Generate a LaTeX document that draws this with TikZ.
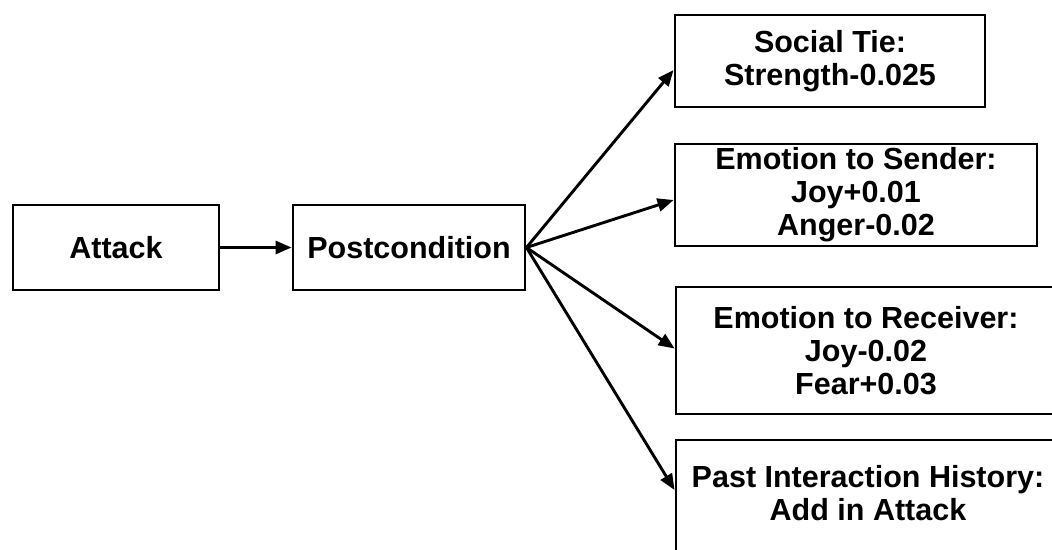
\documentclass[tikz,border=0pt]{standalone}
\usepackage{fontspec}
\setmainfont{Liberation Sans}
\usetikzlibrary{arrows.meta}

\begin{document}
\begin{tikzpicture}[x=1pt,y=-1pt,
  box/.style={draw=black, line width=2.9pt, fill=white, inner sep=0pt,
    align=center, font=\bfseries\fontsize{30.5}{33}\selectfont},
  lbl/.style={inner sep=0pt, align=center, font=\bfseries\fontsize{30.5}{33}\selectfont},
  link/.style={line width=2.9pt, -{Triangle[length=16pt,width=13pt]}}]
  \useasboundingbox[fill=white] (0,0) rectangle (1052,549);

  % left chain
  \node[box, minimum width=206pt, minimum height=85pt] (attack) at (116,247.5) {Attack};
  \node[box, minimum width=232pt, minimum height=85pt] (post) at (409,247.5) {Postcondition};

  % effect boxes
  \node[box, minimum width=310pt, minimum height=92pt] (social) at (830,61)
    {Social Tie:\\Strength-0.025};
  \node[box, minimum width=362pt, minimum height=102pt] (sender) at (856,195)
    {Emotion to Sender:\\Joy+0.01\\Anger-0.02};
  \node[box, minimum width=380pt, minimum height=127pt] (receiver) at (866,350.5)
    {Emotion to Receiver:\\Joy-0.02\\Fear+0.03};
  \node[box, minimum width=384pt, minimum height=120pt] (past) at (868,500) {};
  \node[lbl] (pastlabel) at ([yshift=7pt]past.center)
    {Past Interaction History:\\Add in Attack};

  % connectors
  \draw[link] (attack.east) -- (post.west);
  \draw[link] (post.east) -- ([yshift=-9pt]social.west);
  \draw[link] (post.east) -- ([yshift=-5pt]sender.west);
  \draw[link] (post.east) -- ([yshift=2pt]receiver.west);
  \draw[link] (post.east) -- ([yshift=10pt]past.west);
\end{tikzpicture}
\end{document}
